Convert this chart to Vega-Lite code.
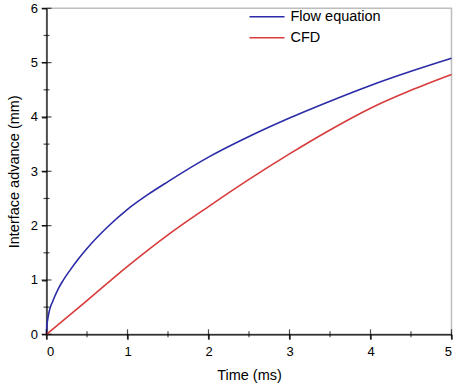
{
  "$schema": "https://vega.github.io/schema/vega-lite/v6.json",
  "width": 405,
  "height": 326,
  "autosize": {"type": "none"},
  "padding": {"left": 46.5, "top": 8.3, "right": 2.5, "bottom": 57.5},
  "background": "white",
  "config": {
    "view": {"stroke": "#bdbdbd", "strokeWidth": 1.5},
    "font": "Liberation Sans",
    "axis": {"grid": false, "domainColor": "black", "tickColor": "black", "labelColor": "black", "titleColor": "black", "labelFont": "Liberation Sans", "titleFont": "Liberation Sans", "titleFontWeight": "normal", "labelFontSize": 13, "titleFontSize": 14.5, "tickSize": 5, "domainWidth": 1.2, "tickWidth": 1.2, "format": "d"}
  },
  "datasets": {
    "curves": [
      {"t": 0, "y": 0, "series": "Flow equation"},
      {"t": 0.002, "y": 0.1, "series": "Flow equation"},
      {"t": 0.005, "y": 0.16, "series": "Flow equation"},
      {"t": 0.01, "y": 0.23, "series": "Flow equation"},
      {"t": 0.02, "y": 0.32, "series": "Flow equation"},
      {"t": 0.035, "y": 0.43, "series": "Flow equation"},
      {"t": 0.05, "y": 0.51, "series": "Flow equation"},
      {"t": 0.075, "y": 0.6, "series": "Flow equation"},
      {"t": 0.1, "y": 0.69, "series": "Flow equation"},
      {"t": 0.15, "y": 0.85, "series": "Flow equation"},
      {"t": 0.2, "y": 0.98, "series": "Flow equation"},
      {"t": 0.3, "y": 1.2, "series": "Flow equation"},
      {"t": 0.4, "y": 1.4, "series": "Flow equation"},
      {"t": 0.5, "y": 1.58, "series": "Flow equation"},
      {"t": 0.75, "y": 1.97, "series": "Flow equation"},
      {"t": 1, "y": 2.3, "series": "Flow equation"},
      {"t": 1.25, "y": 2.57, "series": "Flow equation"},
      {"t": 1.5, "y": 2.81, "series": "Flow equation"},
      {"t": 2, "y": 3.26, "series": "Flow equation"},
      {"t": 2.5, "y": 3.64, "series": "Flow equation"},
      {"t": 3, "y": 3.98, "series": "Flow equation"},
      {"t": 3.5, "y": 4.29, "series": "Flow equation"},
      {"t": 4, "y": 4.58, "series": "Flow equation"},
      {"t": 4.5, "y": 4.84, "series": "Flow equation"},
      {"t": 5, "y": 5.08, "series": "Flow equation"},
      {"t": 0, "y": 0, "series": "CFD"},
      {"t": 0.5, "y": 0.62, "series": "CFD"},
      {"t": 1, "y": 1.25, "series": "CFD"},
      {"t": 1.5, "y": 1.83, "series": "CFD"},
      {"t": 2, "y": 2.35, "series": "CFD"},
      {"t": 2.5, "y": 2.85, "series": "CFD"},
      {"t": 3, "y": 3.32, "series": "CFD"},
      {"t": 3.5, "y": 3.76, "series": "CFD"},
      {"t": 4, "y": 4.16, "series": "CFD"},
      {"t": 4.5, "y": 4.49, "series": "CFD"},
      {"t": 5, "y": 4.78, "series": "CFD"}
    ],
    "majorTicks": [{"v": 0}, {"v": 1}, {"v": 2}, {"v": 3}, {"v": 4}, {"v": 5}],
    "minorTicksX": [{"v": 0.5}, {"v": 1.5}, {"v": 2.5}, {"v": 3.5}, {"v": 4.5}],
    "majorTicksY": [{"v": 0}, {"v": 1}, {"v": 2}, {"v": 3}, {"v": 4}, {"v": 5}, {"v": 6}],
    "minorTicksY": [{"v": 0.5}, {"v": 1.5}, {"v": 2.5}, {"v": 3.5}, {"v": 4.5}, {"v": 5.5}]
  },
  "layer": [
    {
      "data": {"name": "curves"},
      "mark": {"type": "line", "strokeWidth": 1.6, "interpolate": "monotone"},
      "encoding": {
        "x": {"field": "t", "type": "quantitative", "scale": {"domain": [0, 5], "nice": false}, "axis": {"title": "Time (ms)", "values": [0, 1, 2, 3, 4, 5], "labelPadding": 6, "titlePadding": 10}},
        "y": {"field": "y", "type": "quantitative", "scale": {"domain": [0, 6], "nice": false}, "axis": {"title": "Interface advance (mm)", "values": [0, 1, 2, 3, 4, 5, 6], "labelPadding": 4, "titlePadding": 9}},
        "color": {"field": "series", "type": "nominal", "sort": ["Flow equation", "CFD"], "scale": {"domain": ["Flow equation", "CFD"], "range": ["#2b2ba8", "#d83b3b"]},
          "legend": {"title": null, "orient": "none", "legendX": 202, "legendY": 0, "symbolType": "stroke", "symbolSize": 1225, "symbolStrokeWidth": 1.6, "labelFontSize": 14.5, "labelFont": "Liberation Sans", "labelColor": "black", "labelOffset": 5, "clipHeight": 17, "rowPadding": 4, "padding": 0}
        }
      }
    },
    {
      "data": {"name": "majorTicks"},
      "mark": {"type": "tick", "orient": "vertical", "size": 10, "thickness": 1.2, "color": "black"},
      "encoding": {"x": {"field": "v", "type": "quantitative"}, "y": {"datum": 0, "type": "quantitative"}}
    },
    {
      "data": {"name": "minorTicksX"},
      "mark": {"type": "tick", "orient": "vertical", "size": 6, "thickness": 1.2, "color": "black"},
      "encoding": {"x": {"field": "v", "type": "quantitative"}, "y": {"datum": 0, "type": "quantitative"}}
    },
    {
      "data": {"name": "majorTicksY"},
      "mark": {"type": "tick", "orient": "horizontal", "size": 10, "thickness": 1.2, "color": "black"},
      "encoding": {"y": {"field": "v", "type": "quantitative"}, "x": {"datum": 0, "type": "quantitative"}}
    },
    {
      "data": {"name": "minorTicksY"},
      "mark": {"type": "tick", "orient": "horizontal", "size": 6, "thickness": 1.2, "color": "black"},
      "encoding": {"y": {"field": "v", "type": "quantitative"}, "x": {"datum": 0, "type": "quantitative"}}
    }
  ]
}
